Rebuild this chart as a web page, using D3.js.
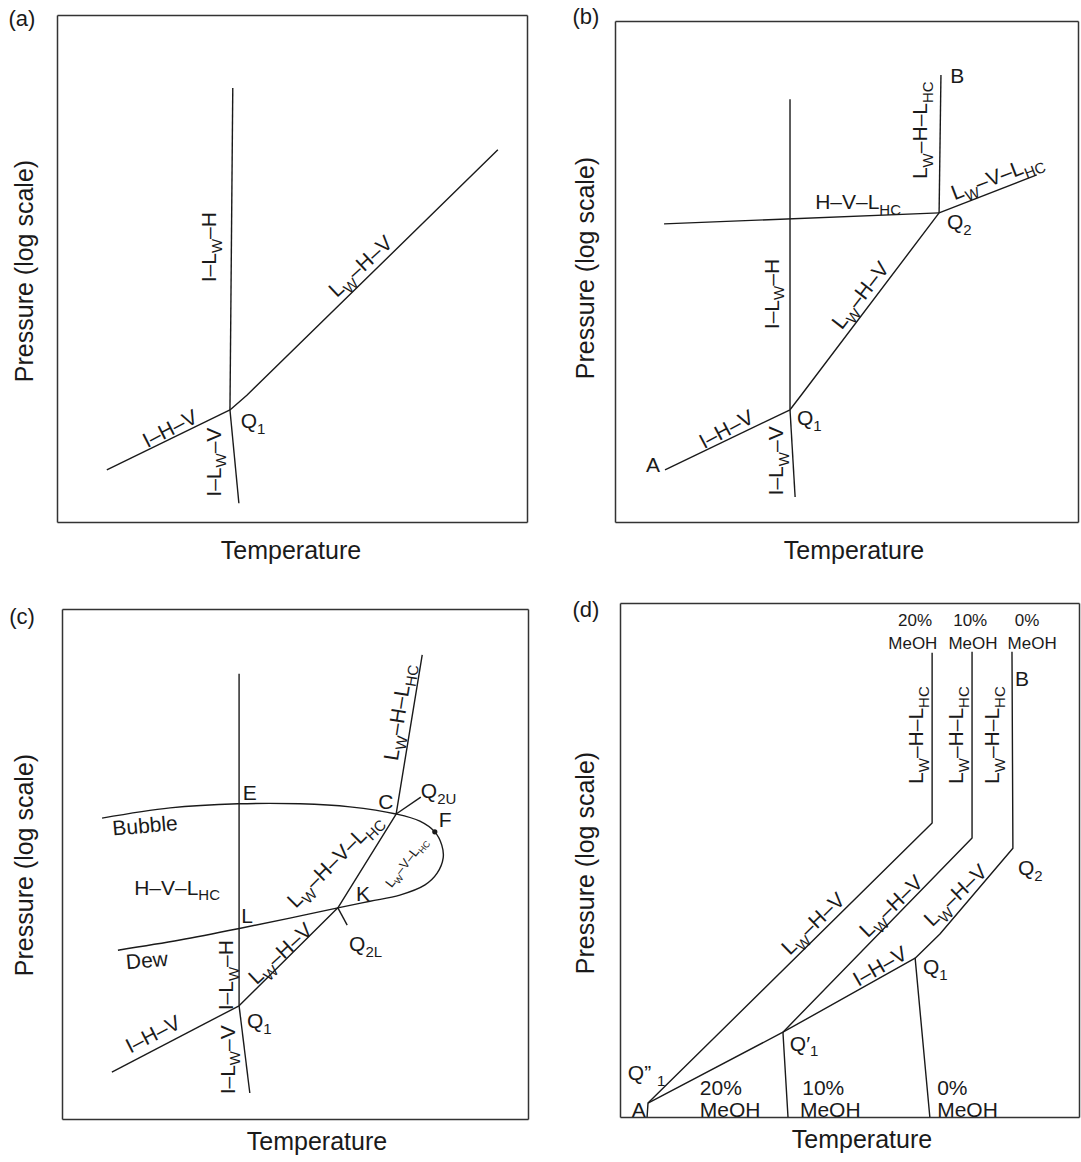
<!DOCTYPE html>
<html>
<head>
<meta charset="utf-8">
<script src="https://cdn.jsdelivr.net/npm/d3@7"></script>
<style>
  body { margin: 0; background: #fff; }
  svg text { font-family: "Liberation Sans", Arial, Helvetica, sans-serif; fill: #1a1a1a; }
</style>
</head>
<body>
<svg id="chart" width="1081" height="1162"></svg>
<script>
// Temperature and log-pressure are shown in relative units (0–100) in every panel.
const tempDomain = [0, 100];
const logPDomain = [0, 100];

// ---------- (a) three-phase lines around the lower quadruple point ----------
const aLines = [
  [[37.4, 85.6], [36.8, 22.1]],               // I–Lw–H
  [[10.6, 10.3], [36.8, 22.1]],               // I–H–V
  [[36.8, 22.1], [38.7, 3.7]],                // I–Lw–V
  [[36.8, 22.1], [40.4, 25.0], [93.8, 73.4]]  // Lw–H–V
];
// [text, T, logP, angle, anchor, size]; {..} marks a subscript
const aLabels = [
  ["I–L{W}–H", 32.3, 54.2, -90],
  ["L{W}–H–V", 64.5, 50.5, -43],
  ["I–H–V", 24.0, 18.5, -27],
  ["I–L{W}–V", 33.2, 11.8, -90],
  ["Q{1}", 39.1, 20.1, 0, "start"]
];

// ---------- (b) with the upper quadruple point ----------
const bLines = [
  [[37.8, 84.4], [37.8, 22.4]],               // I–Lw–H
  [[37.8, 22.4], [38.9, 5.0]],                // I–Lw–V
  [[10.8, 10.4], [37.8, 22.4]],               // I–H–V (A to Q1)
  [[37.8, 22.4], [40.2, 25.3], [70.0, 61.7]], // Lw–H–V
  [[10.6, 59.5], [70.0, 61.7]],               // H–V–LHC
  [[70.0, 61.7], [70.4, 89.2]],               // Lw–H–LHC (Q2 to B)
  [[70.0, 61.7], [91.1, 69.3]]                // Lw–V–LHC
];
const bLabels = [
  ["A", 8.2, 11.4],
  ["B", 73.9, 89.2],
  ["Q{1}", 39.3, 20.8, 0, "start"],
  ["Q{2}", 71.7, 59.9, 0, "start"],
  ["H–V–L{HC}", 52.5, 63.9],
  ["I–L{W}–H", 33.7, 45.5, -90],
  ["L{W}–H–V", 52.9, 45.3, -52],
  ["I–H–V", 24.0, 18.6, -28],
  ["I–L{W}–V", 34.6, 12.2, -90],
  ["L{W}–H–L{HC}", 65.7, 78.2, -90],
  ["L{W}–V–L{HC}", 82.5, 69.1, -21]
];

// ---------- (c) hydrocarbon phase envelope crossing the hydrate lines ----------
const cLines = [
  [[38.0, 87.3], [38.0, 22.2]],                             // I–Lw–H
  [[38.0, 22.2], [40.3, 5.1]],                              // I–Lw–V
  [[10.7, 9.2], [38.0, 22.2]],                              // I–H–V
  [[38.0, 22.2], [59.2, 41.4], [71.7, 59.8], [77.3, 91.0]], // Lw–H–V / Lw–H–V–LHC / Lw–H–LHC
  [[71.7, 59.8], [77.0, 63.1]],                             // tick at Q2U
  [[59.2, 41.4], [61.2, 38.0]]                              // tick at Q2L
];
// bubble-point branch, around the critical region F, and back along the dew-point branch
const cEnvelope = [
  [8.6, 59.0], [23.2, 61.0], [37.8, 61.8], [51.1, 61.8], [61.8, 61.2],
  [71.7, 59.8], [76.8, 58.4], [80.0, 56.3], [81.5, 53.7], [81.8, 51.2],
  [80.5, 48.2], [77.9, 45.9], [72.5, 43.9], [66.1, 42.7], [59.2, 41.4],
  [48.9, 39.4], [37.8, 37.3], [25.3, 35.1], [12.0, 33.1]
];
const cPointF = [80.0, 56.3];
const cLabels = [
  ["E", 40.3, 64.1],
  ["C", 69.5, 62.2],
  ["Q{2U}", 77.0, 64.5, 0, "start"],
  ["F", 82.2, 58.8],
  ["Bubble", 17.8, 57.6, -5],
  ["H–V–L{HC}", 24.7, 45.5],
  ["L", 39.7, 40.0],
  ["K", 64.6, 44.3],
  ["Q{2L}", 61.6, 34.5, 0, "start"],
  ["L{W}–V–L{HC}", 73.8, 50.4, -52, "middle", 13],
  ["L{W}–H–V–L{HC}", 58.4, 50.8, -45],
  ["Dew", 18.2, 31.2, -5],
  ["I–L{W}–H", 35.0, 28.2, -90],
  ["L{W}–H–V", 46.8, 32.5, -43],
  ["Q{1}", 39.7, 19.4, 0, "start"],
  ["I–H–V", 19.5, 16.7, -27],
  ["I–L{W}–V", 35.4, 11.6, -90],
  ["L{W}–H–L{HC}", 72.1, 79.8, -81]
];

// ---------- (d) shift of the hydrate lines with methanol ----------
const dLines = [
  [[85.4, 90.5], [85.6, 52.3], [69.7, 35.6], [64.3, 30.9], [67.5, 0]], // 0% MeOH
  [[76.7, 90.5], [76.7, 54.3], [35.5, 16.5], [36.6, 0]],               // 10% MeOH
  [[68.0, 90.3], [68.0, 57.2], [6.1, 2.7], [5.9, 0]],                  // 20% MeOH
  [[64.3, 30.9], [35.5, 16.5], [6.1, 2.7]]                             // I–H–V (Q1 to Q'1 to A)
];
const dLabels = [
  ["20%", 64.3, 96.7, 0, "middle", 17],
  ["MeOH", 63.8, 92.2, 0, "middle", 17],
  ["10%", 76.3, 96.7, 0, "middle", 17],
  ["MeOH", 76.9, 92.2, 0, "middle", 17],
  ["0%", 88.7, 96.7, 0, "middle", 17],
  ["MeOH", 89.8, 92.2, 0, "middle", 17],
  ["B", 87.6, 85.4],
  ["Q{2}", 86.7, 48.6, 0, "start"],
  ["L{W}–H–L{HC}", 64.3, 74.3, -90],
  ["L{W}–H–L{HC}", 73.0, 74.3, -90],
  ["L{W}–H–L{HC}", 81.0, 74.3, -90],
  ["L{W}–H–V", 42.0, 37.7, -44],
  ["L{W}–H–V", 59.0, 41.1, -44],
  ["L{W}–H–V", 73.0, 43.2, -44],
  ["I–H–V", 56.6, 29.4, -30],
  ["Q{1}", 66.0, 29.2, 0, "start"],
  ["Q′{1}", 37.0, 14.4, 0, "start"],
  ["Q” {1}", 1.7, 8.6, 0, "start"],
  ["A", 4.1, 1.4],
  ["20%", 17.4, 5.8, 0, "start"],
  ["MeOH", 17.4, 1.4, 0, "start"],
  ["10%", 39.7, 5.8, 0, "start"],
  ["MeOH", 39.2, 1.4, 0, "start"],
  ["0%", 69.1, 5.8, 0, "start"],
  ["MeOH", 69.1, 1.4, 0, "start"]
];

// ---------- layout ----------
const panels = [
  { tag: "(a)", box: [57, 15, 527, 522], tagPos: [22, 18], yTitle: [24, 271], xTitle: [291, 550],
    lines: aLines, labels: aLabels },
  { tag: "(b)", box: [615, 21, 1078, 522], tagPos: [586, 16], yTitle: [585, 268], xTitle: [854, 550],
    lines: bLines, labels: bLabels },
  { tag: "(c)", box: [62, 609, 528, 1119], tagPos: [22, 616], yTitle: [24, 865], xTitle: [317, 1141],
    lines: cLines, labels: cLabels, envelope: cEnvelope, dot: cPointF },
  { tag: "(d)", box: [620, 603, 1079, 1117], tagPos: [586, 609], yTitle: [585, 863], xTitle: [862, 1139],
    lines: dLines, labels: dLabels }
];

const svg = d3.select("#chart");
const ink = "#1a1a1a";

function addLabel(g, x, y, spec) {
  const [txt, , , angle = 0, anchor = "middle", size = 21] = spec;
  const sub = Math.round(size * 0.72);
  const shift = size * 0.28;
  const t = g.append("text")
    .attr("transform", `translate(${x},${y}) rotate(${angle})`)
    .attr("y", size * 0.36)
    .attr("text-anchor", anchor)
    .attr("font-size", size);
  let lowered = false;
  txt.split(/(\{[^}]*\})/).filter(s => s.length).forEach(part => {
    if (part.startsWith("{")) {
      t.append("tspan").attr("font-size", sub).attr("dy", lowered ? 0 : shift)
        .text(part.slice(1, -1));
      lowered = true;
    } else {
      t.append("tspan").attr("dy", lowered ? -shift : 0).text(part);
      lowered = false;
    }
  });
}

panels.forEach(p => {
  const [x0, y0, x1, y1] = p.box;
  const x = d3.scaleLinear().domain(tempDomain).range([x0, x1]);
  const y = d3.scaleLinear().domain(logPDomain).range([y1, y0]);
  const g = svg.append("g");

  // frame (axes without ticks)
  g.append("g").attr("transform", `translate(0,${y1})`)
    .call(d3.axisBottom(x).tickValues([]).tickSizeOuter(0));
  g.append("g").attr("transform", `translate(${x0},0)`)
    .call(d3.axisLeft(y).tickValues([]).tickSizeOuter(0));
  g.append("g").attr("transform", `translate(0,${y0})`)
    .call(d3.axisTop(x).tickValues([]).tickSizeOuter(0));
  g.append("g").attr("transform", `translate(${x1},0)`)
    .call(d3.axisRight(y).tickValues([]).tickSizeOuter(0));
  g.selectAll(".domain").attr("stroke", "#333").attr("stroke-width", 1.5);

  const line = d3.line().x(d => x(d[0])).y(d => y(d[1]));
  g.selectAll("path.phase").data(p.lines).join("path")
    .attr("class", "phase")
    .attr("d", line)
    .attr("fill", "none").attr("stroke", ink).attr("stroke-width", 1.4)
    .attr("stroke-linejoin", "round");

  if (p.envelope) {
    const curve = d3.line().x(d => x(d[0])).y(d => y(d[1])).curve(d3.curveCatmullRom.alpha(0.5));
    g.append("path").attr("d", curve(p.envelope))
      .attr("fill", "none").attr("stroke", ink).attr("stroke-width", 1.4);
  }
  if (p.dot) {
    g.append("circle").attr("cx", x(p.dot[0])).attr("cy", y(p.dot[1])).attr("r", 2.6).attr("fill", ink);
  }

  p.labels.forEach(l => addLabel(g, x(l[1]), y(l[2]), l));

  svg.append("text").attr("x", p.tagPos[0]).attr("y", p.tagPos[1]).attr("dy", "0.36em")
    .attr("text-anchor", "middle").attr("font-size", 22).text(p.tag);
  svg.append("text")
    .attr("transform", `translate(${p.yTitle[0]},${p.yTitle[1]}) rotate(-90)`)
    .attr("dy", "0.36em").attr("text-anchor", "middle").attr("font-size", 25)
    .text("Pressure (log scale)");
  svg.append("text").attr("x", p.xTitle[0]).attr("y", p.xTitle[1]).attr("dy", "0.36em")
    .attr("text-anchor", "middle").attr("font-size", 25).text("Temperature");
});
</script>
</body>
</html>
